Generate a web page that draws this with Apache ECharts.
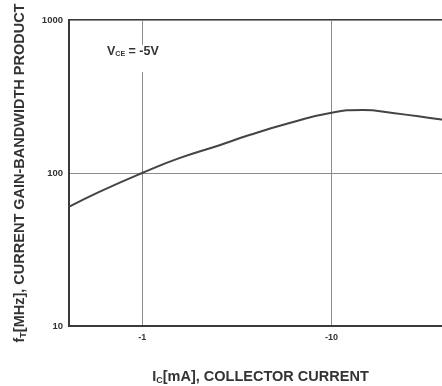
<!DOCTYPE html>
<html>
<head>
<meta charset="utf-8">
<script src="https://cdn.jsdelivr.net/npm/echarts@6/dist/echarts.min.js"></script>
<style>
  html, body { margin: 0; padding: 0; background: #fff; }
  #chart { width: 442px; height: 386px; }
</style>
</head>
<body>
<div id="chart"></div>
<script>
// |Ic| in mA (drawn as -1, -10 on the axis) and fT in MHz
const collectorCurrent = [0.41, 0.59, 1.0, 1.57, 2.56, 3.68, 6.0, 10, 14.6, 21, 38, 43];
const gainBandwidth    = [60,   75,   100, 125,  152,  177,  212, 248, 258, 247, 224, 221];
const yTicks = [10, 100, 1000];
const xTickLabels = { 1: '-1', 10: '-10' };

const chart = echarts.init(document.getElementById('chart'));
const isDecade = v => Math.abs(Math.log10(v) - Math.round(Math.log10(v))) < 1e-6;

const nameRich = {
    m: { fontSize: 14.5, fontWeight: 'bold', color: '#333' },
    s: { fontSize: 9, fontWeight: 'bold', color: '#333', verticalAlign: 'bottom', padding: [8, 0, 0, 0] }
};

chart.setOption({
    backgroundColor: '#ffffff',
    animation: false,
    textStyle: { fontFamily: 'Liberation Sans, Arial, sans-serif' },
    grid: {
        left: 69, top: 20, right: -10, bottom: 60,
        outerBoundsMode: 'none', containLabel: false,
        show: true, borderColor: '#3a3a3a', borderWidth: 2
    },
    xAxis: {
        type: 'log', logBase: 10, min: 0.411, max: 43.2,
        axisLine: { lineStyle: { color: '#3a3a3a', width: 2 } },
        axisTick: { show: false },
        splitLine: { lineStyle: { color: '#8a8a8a', width: 1 } },
        axisLabel: {
            margin: 7, fontSize: 9, fontWeight: 'bold', color: '#333',
            formatter: v => isDecade(v) ? (xTickLabels[Math.round(v)] || '') : ''
        },
        name: '{m|I}{s|C}{m|[mA], COLLECTOR CURRENT}',
        nameLocation: 'middle', nameGap: 42,
        nameTextStyle: { rich: nameRich }
    },
    yAxis: {
        type: 'log', logBase: 10, min: yTicks[0], max: yTicks[yTicks.length - 1],
        axisLine: { lineStyle: { color: '#3a3a3a', width: 2 } },
        axisTick: { show: false },
        splitLine: { lineStyle: { color: '#8a8a8a', width: 1 } },
        axisLabel: {
            margin: 6, fontSize: 9.5, fontWeight: 'bold', color: '#333',
            formatter: v => isDecade(v) ? String(Math.round(v)) : ''
        },
        name: '{m|f}{s|T}{m|[MHz], CURRENT GAIN-BANDWIDTH PRODUCT}',
        nameLocation: 'middle', nameGap: 41,
        nameTextStyle: { rich: nameRich }
    },
    graphic: [{
        type: 'text', left: 104, top: 45, z: 10,
        style: {
            text: '{m|V}{s|CE}{m| = -5V}',
            backgroundColor: '#fff', padding: [0, 3, 14, 3],
            rich: {
                m: { fontSize: 12.5, fontWeight: 'bold', fill: '#333' },
                s: { fontSize: 7, fontWeight: 'bold', fill: '#333', verticalAlign: 'bottom', padding: [6, 0, 0, 0] }
            }
        }
    }],
    series: [{
        type: 'line',
        data: collectorCurrent.map((x, i) => [x, gainBandwidth[i]]),
        smooth: true,
        symbol: 'none',
        lineStyle: { color: '#444', width: 2 }
    }]
});
</script>
</body>
</html>
